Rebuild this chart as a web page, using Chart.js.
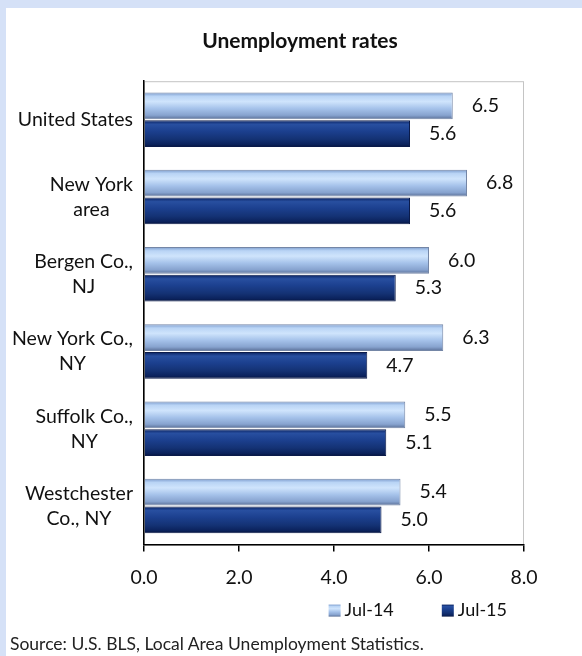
<!DOCTYPE html>
<html>
<head>
<meta charset="utf-8">
<script src="https://cdn.jsdelivr.net/npm/chart.js@4/dist/chart.umd.min.js"></script>
<style>
    html, body { margin: 0; padding: 0; overflow: hidden; }
    body { width: 582px; height: 656px; background: #d5e1f7; position: relative; font-family: Lato, sans-serif; }
    #panel { position: absolute; left: 6px; top: 8px; width: 576px; height: 648px; background: #fff; }
    #chart { position: absolute; left: 0; top: 0; }
    #source { position: absolute; left: 4px; top: 625px; font-size: 17.5px; color: #222; white-space: nowrap; }
</style>
</head>
<body>
<div id="panel">
    <canvas id="chart" width="576" height="648"></canvas>
    <div id="source">Source: U.S. BLS, Local Area Unemployment Statistics.</div>
</div>
<script>
// chart data
const categories = ['United States', ['New York', 'area'], ['Bergen Co.,', 'NJ'], ['New York Co.,', 'NY'], ['Suffolk Co.,', 'NY'], ['Westchester', 'Co., NY']];
const seriesNames = ['Jul-14', 'Jul-15'];
const jul14 = [6.5, 6.8, 6.0, 6.3, 5.5, 5.4];
const jul15 = [5.6, 5.6, 5.3, 4.7, 5.1, 5.0];
const xTicks = [0, 2, 4, 6, 8];

const CAT_PCT = 0.72;
const BAR_PCT = 0.96;
const FONT = 'Lato, sans-serif';
const TEXT_SIZE = 19.5;

// vertical "tube" shading for the two series
const stops = [
    [[0, '#7b9bcd'], [0.14, '#b9d4f5'], [0.34, '#cfe4fc'], [0.6, '#a5c2ea'], [0.85, '#87a3cf'], [1, '#5a6f96']],
    [[0, '#0a2260'], [0.15, '#284fa0'], [0.4, '#1c408f'], [0.7, '#143274'], [0.9, '#0b225c'], [1, '#05133c']],
];
const flat = ['#a9c5ea', '#1b3a84'];

function shade(c2d, i, top, h) {
    const g = c2d.createLinearGradient(0, top, 0, top + h);
    stops[i].forEach(s => g.addColorStop(s[0], s[1]));
    return g;
}

function barFill(ctx) {
    const chart = ctx.chart;
    const y = chart.scales.y;
    if (!y || !chart.chartArea) return flat[ctx.datasetIndex];
    const group = (y.height / categories.length) * CAT_PCT;
    const slot = group / 2;
    const center = y.getPixelForValue(ctx.dataIndex);
    const top = center - group / 2 + ctx.datasetIndex * slot + slot * (1 - BAR_PCT) / 2;
    return shade(chart.ctx, ctx.datasetIndex, top, slot * BAR_PCT);
}

const decor = {
    id: 'decor',
    beforeDraw(chart) {
        const a = chart.chartArea, c = chart.ctx;
        c.save();
        c.strokeStyle = '#c4c4c4';
        c.lineWidth = 1;
        c.strokeRect(a.left + 0.5, a.top + 0.5, a.right - a.left - 1, a.bottom - a.top);
        c.restore();
    },
    afterDraw(chart) {
        const a = chart.chartArea, c = chart.ctx, y = chart.scales.y;
        c.save();
        c.fillStyle = '#111';
        c.font = TEXT_SIZE + 'px ' + FONT;
        c.textBaseline = 'middle';

        // category labels: lines centred on each other, block right-aligned
        const lineH = 25;
        categories.forEach((cat, i) => {
            const lines = Array.isArray(cat) ? cat : [cat];
            const maxW = Math.max(...lines.map(l => c.measureText(l).width));
            const cx = a.left - 11 - maxW / 2;
            const cy = y.getPixelForTick(i);
            c.textAlign = 'center';
            lines.forEach((l, j) => c.fillText(l, cx, cy + (j - (lines.length - 1) / 2) * lineH));
        });

        // value labels
        c.textAlign = 'left';
        chart.data.datasets.forEach((ds, di) => {
            chart.getDatasetMeta(di).data.forEach((bar, i) => {
                c.fillText(ds.data[i].toFixed(1), bar.x + 19, bar.y);
            });
        });

        // legend, right aligned under the plot
        c.font = '18px ' + FONT;
        const box = 12, gap = 48, textGap = 4;
        const widths = seriesNames.map(n => box + textGap + c.measureText(n).width);
        let x = a.right - 17 - widths.reduce((s, w) => s + w, 0) - gap * (widths.length - 1);
        const ly = a.bottom + 66;
        seriesNames.forEach((n, i) => {
            c.fillStyle = shade(c, i, ly - box / 2, box);
            c.fillRect(x, ly - box / 2, box, box);
            c.fillStyle = '#111';
            c.fillText(n, x + box + textGap, ly);
            x += widths[i] + gap;
        });
        c.restore();
    }
};

new Chart(document.getElementById('chart'), {
    type: 'bar',
    data: {
        labels: categories,
        datasets: [
            { label: seriesNames[0], data: jul14, backgroundColor: barFill, borderColor: '#7486a6', borderWidth: 1, borderSkipped: 'start' },
            { label: seriesNames[1], data: jul15, backgroundColor: barFill, borderColor: '#0a1a4a', borderWidth: 1, borderSkipped: 'start' },
        ],
    },
    options: {
        indexAxis: 'y',
        responsive: false,
        animation: false,
        devicePixelRatio: 1,
        datasets: { bar: { categoryPercentage: CAT_PCT, barPercentage: BAR_PCT } },
        layout: { padding: { left: 70, right: 58, top: 0, bottom: 53 } },
        plugins: {
            legend: { display: false },
            tooltip: { enabled: false },
            title: {
                display: true,
                text: 'Unemployment rates',
                color: '#111',
                font: { family: FONT, size: 21, weight: 'bold' },
                padding: { top: 21, bottom: 27 },
            },
        },
        scales: {
            x: {
                min: 0,
                max: 8,
                afterBuildTicks: s => { s.ticks = xTicks.map(v => ({ value: v })); },
                ticks: {
                    color: '#111',
                    padding: 14,
                    font: { family: FONT, size: TEXT_SIZE },
                    callback: v => Number(v).toFixed(1),
                },
                grid: { drawOnChartArea: false, tickLength: 7, color: '#000', lineWidth: 1.5 },
                border: { color: '#000', width: 1.5 },
            },
            y: {
                afterFit: s => { s.width = 68; },
                ticks: { display: false },
                grid: { display: false },
                border: { color: '#000', width: 1.5 },
            },
        },
    },
    plugins: [decor],
});
</script>
</body>
</html>
